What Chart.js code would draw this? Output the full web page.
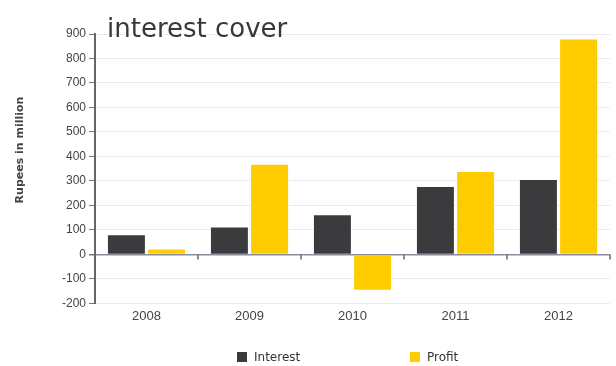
<html><head><meta charset="UTF-8"><title>interest cover</title>
<script src="https://cdn.jsdelivr.net/npm/chart.js"></script>
<style>
body { margin: 0; background: #fff; font-family: "DejaVu Sans", sans-serif; }
.wrap { position: relative; width: 616px; height: 366px; }
.legend { position: absolute; top: 350px; left: 0; width: 616px; font-size: 12px; color: #333; }
.legend span { position: absolute; display: flex; align-items: center; }
.legend i { display: inline-block; width: 10px; height: 10px; margin-right: 7px; }
</style>
</head><body>
<div class="wrap">
    <canvas id="chart" width="616" height="366"></canvas>
    <div class="legend" id="legend"></div>
</div>
<script>
const years = ['2008', '2009', '2010', '2011', '2012'];
const interest = [78, 110, 160, 275, 304];
const profit = [20, 366, -144, 337, 878];
const seriesNames = ['Interest', 'Profit'];
const seriesColors = ['#3b3b3d', '#ffcc00'];
const yTitle = 'Rupees in million';
const chartTitle = 'interest cover';

// title inside the plot, y title, and small ticks on the zero line
const extras = {
    id: 'extras',
    afterDraw(chart) {
        const c = chart.ctx, area = chart.chartArea;
        const y0 = chart.scales.y.getPixelForValue(0);
        const step = (area.right - area.left) / years.length;
        c.save();
        c.strokeStyle = '#667';
        c.lineWidth = 1.5;
        for (let i = 1; i <= years.length; i++) {
            const x = area.left + step * i;
            c.beginPath();
            c.moveTo(x, y0);
            c.lineTo(x, y0 + 5);
            c.stroke();
        }
        c.fillStyle = '#383838';
        c.font = '26px "DejaVu Sans"';
        c.textBaseline = 'alphabetic';
        c.fillText(chartTitle, area.left + 12, 37);

        c.translate(20, 150);
        c.rotate(-Math.PI / 2);
        c.font = 'bold 11px "DejaVu Sans"';
        c.fillStyle = '#444';
        c.textAlign = 'center';
        c.textBaseline = 'middle';
        c.fillText(yTitle, 0, 0);
        c.restore();
    }
};

new Chart(document.getElementById('chart'), {
    type: 'bar',
    data: {
        labels: years,
        datasets: [
            { label: seriesNames[0], data: interest, backgroundColor: seriesColors[0] },
            { label: seriesNames[1], data: profit, backgroundColor: seriesColors[1] }
        ]
    },
    options: {
        responsive: false,
        animation: false,
        layout: { padding: { top: 34, right: 6, bottom: 45, left: 0 } },
        datasets: { bar: { categoryPercentage: 0.78, barPercentage: 0.92 } },
        plugins: { legend: { display: false }, tooltip: { enabled: false } },
        scales: {
            x: {
                grid: { display: false },
                border: { display: false },
                ticks: { color: '#444', font: { size: 13 }, padding: -3 }
            },
            y: {
                min: -200,
                max: 900,
                ticks: { stepSize: 100, color: '#444', font: { size: 12 }, padding: 3 },
                grid: {
                    color: ctx => ctx.tick && ctx.tick.value === 0 ? '#8a8d99' : '#ececec',
                    lineWidth: ctx => ctx.tick && ctx.tick.value === 0 ? 1.5 : 1,
                    tickColor: '#777',
                    tickLength: 6
                },
                border: { color: '#666', width: 2 },
                afterFit: scale => { scale.width = 95; }
            }
        }
    },
    plugins: [extras]
});

const legend = document.getElementById('legend');
const legendX = [237, 410];
seriesNames.forEach((name, i) => {
    const s = document.createElement('span');
    s.style.left = legendX[i] + 'px';
    s.innerHTML = '<i style="background:' + seriesColors[i] + '"></i>' + name;
    legend.appendChild(s);
});
</script>
</body></html>
